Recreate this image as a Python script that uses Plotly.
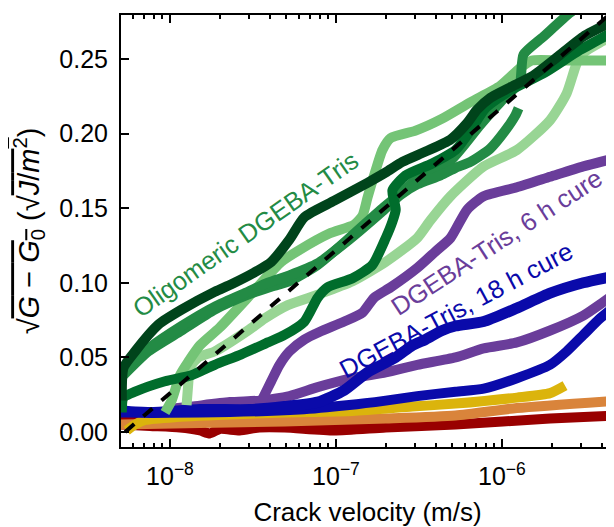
import plotly.graph_objects as go

# ---- data (log10 of crack velocity in m/s, sqrt(G-G0)) ----
dk_logv = [-8.29, -8.28, -8.21, -8.13, -8.07, -7.93, -7.73, -7.63, -7.49, -7.39, -7.28, -7.19, -7.01,
           -6.81, -6.70, -6.60, -6.46, -6.31, -6.21, -6.15, -6.07, -5.95, -5.81, -5.67, -5.51, -5.30]
dk_y = [0.021, 0.043, 0.054, 0.065, 0.072, 0.082, 0.094, 0.099, 0.107, 0.114, 0.129, 0.144, 0.155,
        0.167, 0.174, 0.181, 0.188, 0.196, 0.207, 0.216, 0.224, 0.231, 0.239, 0.251, 0.265, 0.277]

dg_logv = [-8.29, -8.28, -8.21, -8.03, -7.87, -7.73, -7.57, -7.41, -7.31, -7.19, -7.11, -7.05, -6.90,
           -6.78, -6.70, -6.66, -6.64, -6.65, -6.66, -6.58, -6.42, -6.28, -6.19, -6.10, -5.95, -5.74,
           -5.53, -5.30]
dg_y = [0.013, 0.023, 0.027, 0.034, 0.038, 0.045, 0.052, 0.060, 0.065, 0.074, 0.090, 0.097, 0.103,
        0.112, 0.130, 0.141, 0.149, 0.155, 0.162, 0.172, 0.180, 0.189, 0.202, 0.217, 0.229, 0.241,
        0.256, 0.270]

md1_logv = [-8.28, -8.13, -7.93, -7.73, -7.53, -7.41, -7.28, -7.11, -6.92, -6.73, -6.61, -6.51, -6.37,
            -6.28, -6.19, -6.07, -5.98, -5.92, -5.90]
md1_y = [0.042, 0.056, 0.071, 0.084, 0.094, 0.100, 0.105, 0.113, 0.129, 0.147, 0.159, 0.166, 0.172,
         0.177, 0.181, 0.190, 0.202, 0.212, 0.217]

md2_logv = [-8.28, -8.13, -7.93, -7.73, -7.53, -7.40, -7.28, -7.11, -6.92, -6.73, -6.61, -6.49, -6.31,
            -6.13, -6.01, -5.92, -5.89, -5.87, -5.75, -5.59, -5.53]
md2_y = [0.038, 0.054, 0.068, 0.082, 0.092, 0.097, 0.101, 0.112, 0.130, 0.149, 0.160, 0.172, 0.182,
         0.206, 0.221, 0.231, 0.235, 0.253, 0.265, 0.281, 0.286]

lg_logv = [-8.03, -7.99, -7.94, -7.89, -7.82, -7.70, -7.49, -7.33, -7.22, -7.04, -6.89, -6.84, -6.81,
           -6.77, -6.72, -6.67, -6.52, -6.36, -6.19, -6.01, -5.89, -5.82, -5.65, -5.30]
lg_y = [0.013, 0.021, 0.038, 0.047, 0.058, 0.070, 0.095, 0.114, 0.122, 0.133, 0.139, 0.145, 0.157,
        0.172, 0.189, 0.197, 0.202, 0.210, 0.221, 0.232, 0.244, 0.249, 0.249, 0.249]

ll_logv = [-7.90, -7.89, -7.88, -7.83, -7.73, -7.53, -7.43, -7.29, -7.11, -6.90, -6.70, -6.51, -6.43,
           -6.31, -6.11, -5.91, -5.71, -5.61, -5.55, -5.51, -5.41, -5.30]
ll_y = [0.018, 0.032, 0.043, 0.050, 0.054, 0.068, 0.076, 0.085, 0.092, 0.101, 0.114, 0.130, 0.142,
        0.158, 0.178, 0.189, 0.209, 0.227, 0.247, 0.254, 0.261, 0.267]

p1_logv = [-7.47, -7.43, -7.39, -7.34, -7.28, -7.19, -7.10, -6.95, -6.84, -6.77, -6.67, -6.51, -6.40,
           -6.31, -6.21, -6.11, -5.91, -5.71, -5.51, -5.30]
p1_y = [0.016, 0.025, 0.034, 0.045, 0.054, 0.062, 0.067, 0.074, 0.080, 0.090, 0.097, 0.110, 0.121,
        0.130, 0.149, 0.158, 0.164, 0.171, 0.178, 0.184]

p2_logv = [-8.03, -7.87, -7.64, -7.46, -7.28, -7.11, -6.90, -6.70, -6.51, -6.28, -6.11, -5.91, -5.71,
           -5.51, -5.39, -5.30]
p2_y = [0.015, 0.017, 0.020, 0.021, 0.024, 0.030, 0.036, 0.040, 0.045, 0.050, 0.056, 0.060, 0.068,
        0.078, 0.087, 0.094]

b1_logv = [-8.30, -8.12, -7.82, -7.52, -7.31, -7.11, -6.95, -6.81, -6.64, -6.54, -6.46, -6.36, -6.28,
           -6.11, -5.91, -5.71, -5.51, -5.30]
b1_y = [0.014, 0.013, 0.015, 0.015, 0.017, 0.020, 0.028, 0.040, 0.050, 0.058, 0.062, 0.068, 0.071,
        0.074, 0.083, 0.093, 0.100, 0.105]

b2_logv = [-8.30, -7.82, -7.22, -6.92, -6.70, -6.51, -6.28, -6.11, -5.91, -5.71, -5.61, -5.51, -5.41, -5.30]
b2_y = [0.013, 0.013, 0.015, 0.018, 0.021, 0.024, 0.027, 0.029, 0.036, 0.045, 0.054, 0.065, 0.076, 0.086]

gold_logv = [-8.26, -8.21, -8.15, -7.96, -7.56, -7.31, -6.90, -6.54, -6.28, -5.91, -5.71, -5.62]
gold_y = [0.001, 0.005, 0.008, 0.010, 0.012, 0.013, 0.014, 0.017, 0.019, 0.023, 0.026, 0.031]

orange_logv = [-8.30, -7.82, -7.31, -6.70, -6.28, -5.91, -5.30]
orange_y = [0.005, 0.006, 0.007, 0.009, 0.011, 0.016, 0.021]

red_logv = [-8.30, -8.12, -7.94, -7.82, -7.76, -7.70, -7.58, -7.46, -7.31, -7.01, -6.70, -6.28, -5.71, -5.30]
red_y = [0.005, 0.004, 0.003, 0.001, -0.001, 0.002, 0.001, 0.003, 0.003, 0.001, 0.003, 0.005, 0.009, 0.011]

red2_logv = [-8.30, -7.82, -7.28, -6.61]
red2_y = [0.010, 0.008, 0.005, 0.005]

fit_logv = [-8.27, -5.33]
fit_y = [0.0, 0.282]

xtick_vals = [1e-8, 1e-7, 1e-6]
xtick_text = ["10<sup>\u22128</sup>", "10<sup>\u22127</sup>", "10<sup>\u22126</sup>"]
ytick_vals = [0.0, 0.05, 0.10, 0.15, 0.20, 0.25]

FONT = "Liberation Sans, Arial, sans-serif"

fig = go.Figure()


def add(logv, y, color, width=10, dash=None, smooth=True):
    line = dict(color=color, width=width, dash=dash)
    if smooth:
        line.update(shape="spline", smoothing=0.6)
    fig.add_trace(go.Scatter(
        x=[10 ** v for v in logv], y=y, mode="lines", line=line,
        hoverinfo="skip", showlegend=False))


add(red2_logv, red2_y, "#990000")
add(red_logv, red_y, "#990000")
add(orange_logv, orange_y, "#d9843b")
add(gold_logv, gold_y, "#dbb40c")
add(p2_logv, p2_y, "#6a3d9a")
add(p1_logv, p1_y, "#6a3d9a")
add(b2_logv, b2_y, "#0a0aaa")
add(b1_logv, b1_y, "#0a0aaa", 11)
add(ll_logv, ll_y, "#98d594")
add(lg_logv, lg_y, "#74c476")
add(md2_logv, md2_y, "#238b45")
add(md1_logv, md1_y, "#238b45")
add(dg_logv, dg_y, "#006d2c")
add(dk_logv, dk_y, "#00441b")
add(fit_logv, fit_y, "black", 4, "dash", smooth=False)

fig.add_annotation(x=-7.545, y=0.133, xref="x", yref="y", text="Oligomeric DGEBA-Tris",
                   showarrow=False, textangle=-35, font=dict(family=FONT, size=25.5, color="#238b45"))
fig.add_annotation(x=-6.03, y=0.127, xref="x", yref="y", text="DGEBA-Tris, 6 h cure",
                   showarrow=False, textangle=-33, font=dict(family=FONT, size=25.5, color="#6a3d9a"))
fig.add_annotation(x=-6.277, y=0.082, xref="x", yref="y", text="DGEBA-Tris, 18 h cure",
                   showarrow=False, textangle=-28, font=dict(family=FONT, size=25.5, color="#0a0aaa"))

ytitle = ("\u221a<span style='text-decoration:overline'><i>G</i> \u2212 <i>G</i><sub>0</sub></span>"
          " (\u221a<span style='text-decoration:overline'><i>J</i>/<i>m</i><sup>2</sup></span>)")

# the page adds an 8 px body margin, so the margins below are offset to compensate
fig.update_layout(
    width=614, height=527,
    margin=dict(l=113, r=8, t=7, b=88),
    paper_bgcolor="white", plot_bgcolor="white",
    font=dict(family=FONT, size=25, color="black"),
    xaxis=dict(
        type="log", range=[-8.295, -5.325], automargin=False,
        tickvals=xtick_vals, ticktext=xtick_text,
        ticks="inside", ticklen=8, tickwidth=2, tickcolor="black",
        minor=dict(ticks="inside", ticklen=4, tickwidth=1.5, tickcolor="black", dtick="D1", showgrid=False),
        showline=True, linecolor="black", linewidth=2, mirror="ticks",
        showgrid=False, zeroline=False,
        ticklabelstandoff=6,
        title=dict(text="Crack velocity (m/s)", font=dict(size=26), standoff=14),
        tickfont=dict(size=25),
    ),
    yaxis=dict(
        range=[-0.0101, 0.2795], automargin=False,
        tickvals=ytick_vals, tickformat=".2f",
        ticks="inside", ticklen=8, tickwidth=2, tickcolor="black",
        showline=True, linecolor="black", linewidth=2, mirror="ticks",
        showgrid=False, zeroline=False,
        ticklabelstandoff=6,
        title=dict(text=ytitle, font=dict(size=29), standoff=11),
        tickfont=dict(size=25),
    ),
)

fig.write_html("out.html")
